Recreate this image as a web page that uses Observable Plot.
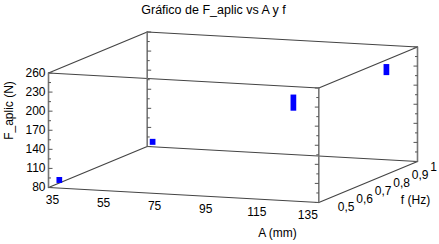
<!DOCTYPE html>
<html>
<head>
<meta charset="utf-8">
<script src="https://cdn.jsdelivr.net/npm/d3@7"></script>
<script src="https://cdn.jsdelivr.net/npm/@observablehq/plot@0.6"></script>
<style>
html,body{margin:0;padding:0;background:#fff;overflow:hidden}
svg{display:block}
</style>
</head>
<body>
<script>
const titleText = "Gráfico de F_aplic vs A y f";
const labelA = "A (mm)";
const labelF = "f (Hz)";
const labelY = "F_aplic (N)";

const ticksA = [35, 55, 75, 95, 115, 135];
const ticksF = [0.5, 0.6, 0.7, 0.8, 0.9, 1];
const tickLabelsF = ["0,5", "0,6", "0,7", "0,8", "0,9", "1"];
const ticksY = [80, 110, 140, 170, 200, 230, 260];
const minorY = [95, 125, 155, 185, 215, 245];

const pointA = [39, 37, 125.6, 123.5];
const pointF = [0.5, 1, 0.5, 1];
const pointLow = [87.3, 82.3, 221.3, 212.3];
const pointHigh = [96.7, 91.7, 246.7, 229.7];

// Oblique 3D projection of (A, f, F) onto the page
const A0 = 35, A1 = 135, f0 = 0.5, f1 = 1, Y0 = 80, Y1 = 260;
const tA = a => (a - A0) / (A1 - A0);
const tF = f => (f - f0) / (f1 - f0);
function project(a, f, v) {
  const tv = (v - Y0) / (Y1 - Y0);
  return {x: 48 + 270.3 * tA(a) + 98.7 * tF(f), y: 187 + 15 * tA(a) - 41 * tF(f) - 114.5 * tv};
}
const edge = (a1, f1_, v1, a2, f2, v2) => [project(a1, f1_, v1), project(a2, f2, v2)];

const horizontal = [
  edge(A0, f0, Y0, A1, f0, Y0), edge(A0, f1, Y0, A1, f1, Y0),
  edge(A0, f0, Y1, A1, f0, Y1), edge(A0, f1, Y1, A1, f1, Y1),
  edge(A0, f0, Y0, A0, f1, Y0), edge(A1, f0, Y0, A1, f1, Y0),
  edge(A0, f0, Y1, A0, f1, Y1), edge(A1, f0, Y1, A1, f1, Y1)
];
const vertical = [
  edge(A0, f0, Y0, A0, f0, Y1), edge(A0, f1, Y0, A0, f1, Y1),
  edge(A1, f0, Y0, A1, f0, Y1), edge(A1, f1, Y0, A1, f1, Y1)
];
const posts = [[A0, f0, 1], [A0, f1, 1], [A1, f0, -1], [A1, f1, -1]];
const tickRows = (values, len) => posts.flatMap(([a, f, dir]) => values.map(v => {
  const p = project(a, f, v);
  return {x1: p.x, x2: p.x + dir * len, y1: p.y, y2: p.y};
}));

const points = pointA.map((a, i) => {
  const lo = project(a, pointF[i], pointLow[i]);
  const hi = project(a, pointF[i], pointHigh[i]);
  return {x: lo.x, y1: lo.y, y2: hi.y};
});
const font = "Liberation Sans, Arial, sans-serif";
const textOpts = {fontSize: 12, fill: "#000", fontFamily: font};
const axisA = ticksA.map(a => {
  const p = project(a, f0, Y0);
  return {x: p.x + 4 - 15 * tA(a), y: p.y + 13, t: String(a)};
});
const axisF = ticksF.map((f, i) => {
  const p = project(A1, f, Y0);
  return {x: p.x + 19 - 6.3 * tF(f), y: p.y + 4.3 + 1.7 * tF(f), t: tickLabelsF[i]};
});
const axisY = ticksY.map(v => {
  const p = project(A0, f0, v);
  return {x: p.x - 3, y: p.y, t: String(v)};
});

const plot = Plot.plot({
  width: 439, height: 244,
  marginTop: 0, marginRight: 0, marginBottom: 0, marginLeft: 0,
  style: {background: "#fff", overflow: "visible"},
  x: {domain: [0, 439], range: [0, 439], axis: null},
  y: {domain: [0, 244], range: [0, 244], axis: null},
  marks: [
    ...horizontal.map(e => Plot.line(e, {x: "x", y: "y", stroke: "#444", strokeWidth: 1.2})),
    ...vertical.map(e => Plot.line(e, {x: "x", y: "y", stroke: "#777", strokeWidth: 1.6})),
    Plot.link(tickRows(ticksY, 4), {x1: "x1", x2: "x2", y1: "y1", y2: "y2", stroke: "#555", strokeWidth: 1}),
    Plot.link(tickRows(minorY, 2.5), {x1: "x1", x2: "x2", y1: "y1", y2: "y2", stroke: "#555", strokeWidth: 1}),
    Plot.ruleX(points, {x: "x", y1: "y1", y2: "y2", stroke: "#0000ff", strokeWidth: 5.7}),
    Plot.text(axisY, {x: "x", y: "y", text: "t", textAnchor: "end", ...textOpts}),
    Plot.text(axisA, {x: "x", y: "y", text: "t", ...textOpts}),
    Plot.text(axisF, {x: "x", y: "y", text: "t", textAnchor: "start", ...textOpts}),
    Plot.text([titleText], {x: [213], y: [9], text: d => d, fontSize: 12.5, fill: "#000", fontFamily: font}),
    Plot.text([labelA], {x: [277], y: [232.5], text: d => d, ...textOpts}),
    Plot.text([labelF], {x: [415], y: [200], text: d => d, ...textOpts}),
    Plot.text([labelY], {x: [9], y: [110], text: d => d, rotate: -90, ...textOpts})
  ]
});
document.body.appendChild(plot);
</script>
</body>
</html>
